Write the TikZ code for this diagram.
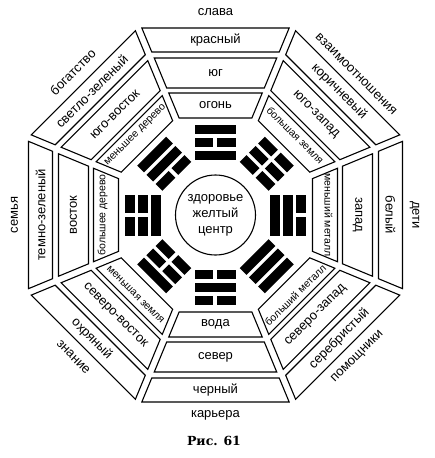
\documentclass[tikz,border=0pt]{standalone}
\usepackage{fontspec}
\setmainfont{Liberation Sans}
\newfontfamily\capfont{DejaVu Serif}
\newcommand\ringseg[3]{%
  \begin{scope}[rotate=#1-90]
    \pgfmathsetmacro\ua{#2*0.41421-3.79}%
    \pgfmathsetmacro\ub{#3*0.41421-3.79}%
    \draw[segbox] (-\ub,#3) -- (\ub,#3) -- (\ua,#2) -- (-\ua,#2) -- cycle;
  \end{scope}}
\newcommand\trigram[4]{%
  \begin{scope}[rotate=#1-90]
    \foreach \rr/\tt in {59.5/#2,72.5/#3,85.5/#4}{%
      \ifnum\tt=1
        \fill (-20.5,\rr-4.75) rectangle (20.5,\rr+4.75);
      \else
        \fill (-20.5,\rr-4.75) rectangle (-2,\rr+4.75);
        \fill (2,\rr-4.75) rectangle (20.5,\rr+4.75);
      \fi}
  \end{scope}}
\begin{document}
\begin{tikzpicture}[x=1pt,y=1pt,
  segbox/.style={draw=black,line width=1.1pt,fill=white},
  lbl/.style={font=\fontsize{13}{15}\selectfont,inner sep=0pt},
  sml/.style={font=\fontsize{10.5}{12}\selectfont,inner sep=0pt}]
\useasboundingbox[fill=white] (-215.5,-243) rectangle (219.5,215);
% rings
\foreach \a in {90,45,0,-45,-90,-135,180,135}{
  \ringseg{\a}{163}{187}
  \ringseg{\a}{127}{157}
  \ringseg{\a}{97}{122}
}
% trigrams (inner to outer, 1 = solid)
\trigram{90}{1}{0}{1}
\trigram{45}{0}{0}{0}
\trigram{0}{1}{1}{0}
\trigram{-45}{1}{1}{1}
\trigram{-90}{0}{1}{0}
\trigram{-135}{0}{0}{1}
\trigram{180}{1}{0}{0}
\trigram{135}{0}{1}{1}
% centre
\draw[line width=1.1pt] (0,0) circle (40);
\node[inner sep=0pt,align=center,font=\fontsize{13}{16}\selectfont] (c) at (0,0) {здоровье\\желтый\\центр};
% outer ring
\node[lbl] (o1) at (90:175) {красный};
\node[lbl,rotate=-45] (o2) at (45:175) {коричневый};
\node[lbl,rotate=-90] (o3) at (0:175) {белый};
\node[lbl,rotate=45] (o4) at (-45:175) {серебристый};
\node[lbl] (o5) at (-90:175) {черный};
\node[lbl,rotate=-45] (o6) at (-135:175) {охряный};
\node[lbl,rotate=90] (o7) at (180:175) {темно-зеленый};
\node[lbl,rotate=45] (o8) at (135:175) {светло-зеленый};
% middle ring
\node[lbl] (m1) at (90:142) {юг};
\node[lbl,rotate=-45] (m2) at (45:142) {юго-запад};
\node[lbl,rotate=-90] (m3) at (0:142) {запад};
\node[lbl,rotate=45] (m4) at (-45:142) {северо-запад};
\node[lbl] (m5) at (-90:142) {север};
\node[lbl,rotate=-45] (m6) at (-135:142) {северо-восток};
\node[lbl,rotate=90] (m7) at (180:142) {восток};
\node[lbl,rotate=45] (m8) at (135:142) {юго-восток};
% inner ring
\node[lbl] (i1) at (90:109.5) {огонь};
\node[sml,rotate=-45] (i2) at (45:113) {большая земля};
\node[sml,rotate=-90] (i3) at (0:113) {меньший металл};
\node[sml,rotate=45] (i4) at (-45:113) {больший металл};
\node[lbl] (i5) at (-90:109.5) {вода};
\node[sml,rotate=-45] (i6) at (-135:113) {меньшая земля};
\node[sml,rotate=90] (i7) at (180:113) {большее дерево};
\node[sml,rotate=45] (i8) at (135:113) {меньшее дерево};
% outside labels
\node[lbl] (e1) at (90:203) {слава};
\node[lbl,rotate=-45] (e2) at (45:199) {взаимоотношения};
\node[lbl,rotate=-90] (e3) at (0:199) {дети};
\node[lbl,rotate=45] (e4) at (-45:201) {помощники};
\node[lbl] (e5) at (-90:200) {карьера};
\node[lbl,rotate=-45] (e6) at (-135:201) {знание};
\node[lbl,rotate=90] (e7) at (180:201) {семья};
\node[lbl,rotate=45] (e8) at (135:202) {богатство};
% caption
\node[inner sep=0pt,font=\capfont\bfseries\fontsize{12.5}{14}\selectfont] (cap) at (-1.5,-226) {Рис. 61};
\end{tikzpicture}
\end{document}
